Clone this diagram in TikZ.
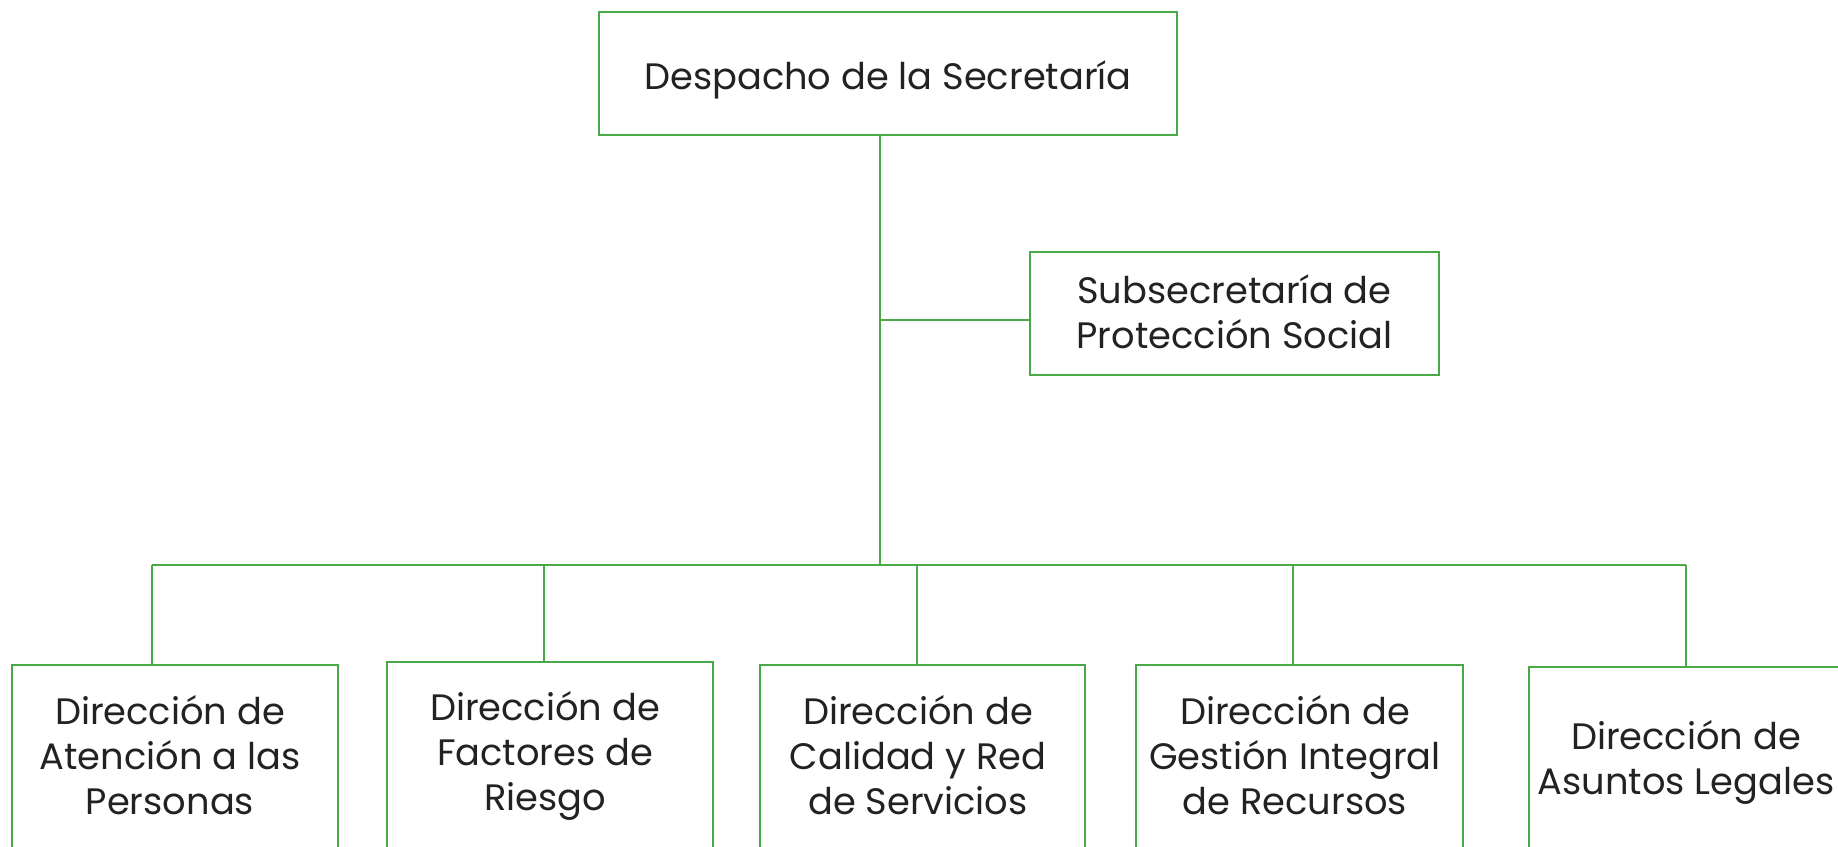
\documentclass[tikz,border=0pt]{standalone}
\usepackage{fontspec}
\setmainfont{Poppins}
\definecolor{boxgreen}{RGB}{74,168,70}
\definecolor{txtgray}{RGB}{34,34,34}
\tikzset{
  orgbox/.style={draw=boxgreen, line width=2.8pt, rectangle, inner sep=0pt},
  orgtext/.style={text=txtgray, align=center, font=\fontsize{36.8}{45}\selectfont, inner sep=0pt},
  conn/.style={draw=boxgreen, line width=2.8pt}
}
\begin{document}
\begin{tikzpicture}[x=1pt,y=-1pt]
\useasboundingbox (0,0) rectangle (1838,846);
% boxes
\node[orgbox, minimum width=578pt, minimum height=123pt] (top) at (888,73.5) {};
\node[orgtext] (toptxt) at (888,79.5) {Despacho de la Secretaría};
\node[orgbox, minimum width=409pt, minimum height=123pt] (sub) at (1234.5,313.5) {};
\node[orgtext] (subtxt) at (1234.5,312) {Subsecretaría de\\Protección Social};
\node[orgbox, minimum width=326pt, minimum height=235pt] (b1) at (175,782.5) {};
\node[orgbox, minimum width=326pt, minimum height=238pt] (b2) at (550,781) {};
\node[orgbox, minimum width=325pt, minimum height=235pt] (b3) at (922.5,782.5) {};
\node[orgbox, minimum width=327pt, minimum height=235pt] (b4) at (1299.5,782.5) {};
\node[orgbox, minimum width=326pt, minimum height=233pt] (b5) at (1692,783.5) {};
\node[orgtext] (t1) at (170,755) {Dirección de\\Atención a las\\Personas};
\node[orgtext] (t2) at (545,756) {Dirección de\\Factores de\\Riesgo};
\node[orgtext] (t3) at (918,755) {Dirección de\\Calidad y Red\\de Servicios};
\node[orgtext] (t4) at (1295,755) {Dirección de\\Gestión Integral\\de Recursos};
\node[orgtext] (t5) at (1686,762) {Dirección de\\Asuntos Legales};
% connector points
\coordinate (j) at (880,565);
\coordinate (s) at (880,320);
\coordinate (k1) at (152,565);
\coordinate (k2) at (544,565);
\coordinate (k3) at (917,565);
\coordinate (k4) at (1293,565);
\coordinate (k5) at (1686,565);
\draw[conn] (top.south -| j) -- (j);
\draw[conn] (s) -- (sub.west |- s);
\draw[conn] (k1) -- (k5);
\draw[conn] (k1) -- (k1 |- b1.north);
\draw[conn] (k2) -- (k2 |- b2.north);
\draw[conn] (k3) -- (k3 |- b3.north);
\draw[conn] (k4) -- (k4 |- b4.north);
\draw[conn] (k5) -- (k5 |- b5.north);
\end{tikzpicture}
\end{document}
